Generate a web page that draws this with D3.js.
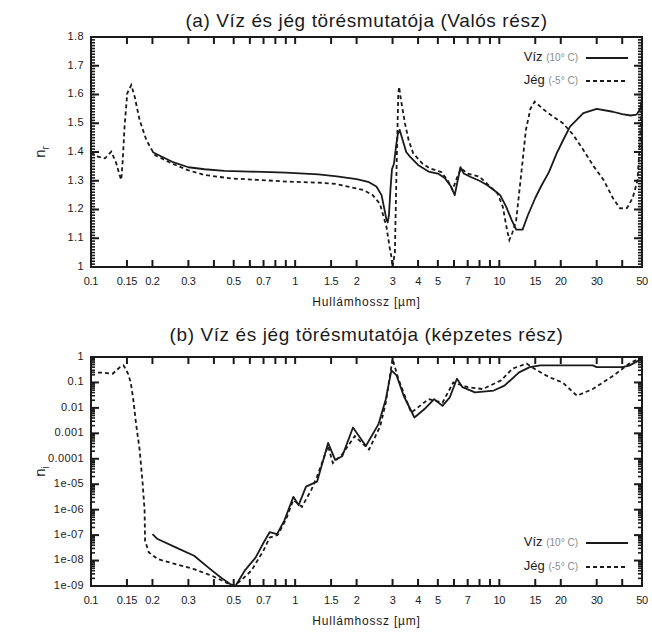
<!DOCTYPE html>
<html>
<head>
<meta charset="utf-8">
<script src="https://cdn.jsdelivr.net/npm/d3@7"></script>
<style>
  body { margin: 0; background: #fff; }
  svg { display: block; }
  text { font-family: "Liberation Sans", Arial, sans-serif; fill: #1a1a1a; }
</style>
</head>
<body>
<svg id="chart" width="652" height="635"></svg>
<script>
// Wavelength axis (µm), labelled ticks and all tick marks
const wavelengthLabels = [0.1, 0.15, 0.2, 0.3, 0.5, 0.7, 1, 1.5, 2, 3, 4, 5, 7, 10, 15, 20, 30, 50];
const wavelengthMarks = [0.1, 0.15, 0.2, 0.3, 0.4, 0.5, 0.6, 0.7, 0.8, 0.9, 1, 1.5, 2, 3, 4, 5, 6, 7, 8, 9, 10, 15, 20, 30, 40, 50];

// Real part tick labels
const realTicks = [1, 1.1, 1.2, 1.3, 1.4, 1.5, 1.6, 1.7, 1.8];
const realTickText = ["1", "1.1", "1.2", "1.3", "1.4", "1.5", "1.6", "1.7", "1.8"];

// Imaginary part tick labels
const imagTicks = [1, 1e-1, 1e-2, 1e-3, 1e-4, 1e-5, 1e-6, 1e-7, 1e-8, 1e-9];
const imagTickText = ["1", "0.1", "0.01", "0.001", "0.0001", "1e-05", "1e-06", "1e-07", "1e-08", "1e-09"];

// Series names
const seriesNames = ["Víz", "Jég"];
const seriesTemps = ["(10° C)", "(-5° C)"];

// Water, real part n_r  [wavelength µm, n]
const waterReal = [
  [0.2,1.40],[0.22,1.385],[0.25,1.366],[0.3,1.347],[0.36,1.34],[0.45,1.334],[0.6,1.332],
  [0.9,1.328],[1.3,1.322],[1.6,1.315],[2.0,1.306],[2.3,1.295],[2.5,1.28],[2.65,1.25],
  [2.72,1.21],[2.8,1.165],[2.84,1.155],[2.88,1.18],[2.93,1.27],[2.98,1.34],[3.05,1.36],
  [3.12,1.42],[3.18,1.46],[3.25,1.477],[3.35,1.445],[3.5,1.40],[3.65,1.384],[4.0,1.355],
  [4.5,1.332],[5.0,1.325],[5.4,1.31],[5.8,1.28],[6.05,1.25],[6.25,1.30],[6.45,1.347],
  [6.7,1.325],[7.2,1.314],[8.0,1.30],[8.7,1.285],[9.5,1.265],[10.1,1.25],[10.8,1.21],
  [11.5,1.163],[12.1,1.13],[13.0,1.13],[13.8,1.18],[15.0,1.24],[16.0,1.28],[17.5,1.33],
  [19.1,1.395],[20.5,1.44],[22.2,1.488],[25.8,1.535],[30,1.55],[36,1.54],[40,1.532],
  [44,1.527],[47,1.53],[49,1.55],[50,1.585]
];

// Ice, real part n_r
const iceReal = [
  [0.1,1.398],[0.108,1.384],[0.117,1.378],[0.1257,1.401],[0.133,1.361],[0.138,1.32],
  [0.1407,1.303],[0.143,1.37],[0.146,1.488],[0.1505,1.604],[0.1575,1.633],[0.1637,1.592],
  [0.173,1.511],[0.1866,1.442],[0.205,1.39],[0.247,1.361],[0.298,1.337],[0.36,1.32],
  [0.486,1.308],[0.656,1.303],[0.92,1.297],[1.34,1.293],[1.58,1.289],[2.16,1.268],
  [2.4,1.25],[2.6,1.22],[2.8,1.14],[2.9,1.07],[2.96,1.036],[3.0,1.0],[3.08,1.05],
  [3.14,1.35],[3.2,1.6],[3.23,1.627],[3.3,1.58],[3.45,1.50],[3.6,1.44],[3.79,1.395],
  [4.2,1.36],[4.57,1.343],[5.2,1.33],[5.6,1.30],[5.9,1.268],[6.2,1.31],[6.5,1.343],
  [7.0,1.325],[8.0,1.314],[9.0,1.28],[9.8,1.256],[10.4,1.21],[10.9,1.13],[11.2,1.094],
  [11.6,1.12],[12.1,1.163],[12.7,1.3],[13.5,1.477],[14.2,1.55],[14.9,1.575],[17.0,1.54],
  [20.5,1.50],[23,1.46],[25.8,1.407],[29,1.35],[32.4,1.303],[36,1.24],[39,1.204],
  [42.2,1.205],[45,1.24],[47.5,1.30],[49,1.45],[50,1.6]
];

// Water, imaginary part n_i
const waterImag = [
  [0.2,1.1e-7],[0.212,7e-8],[0.26,3.3e-8],[0.32,1.55e-8],[0.376,5.3e-9],[0.434,2.1e-9],
  [0.48,1.2e-9],[0.51,1e-9],[0.566,4e-9],[0.64,1.3e-8],[0.7,5e-8],[0.75,1.3e-7],
  [0.815,1.1e-7],[0.886,3.8e-7],[0.98,3.2e-6],[1.04,1.5e-6],[1.13,8e-6],[1.28,1.26e-5],
  [1.36,6.8e-5],[1.45,4.2e-4],[1.57,9e-5],[1.7,1.25e-4],[1.92,1.7e-3],[2.22,3.2e-4],
  [2.56,2.3e-3],[2.78,0.022],[2.96,0.3],[3.14,0.19],[3.4,0.03],[3.84,4.2e-3],[4.3,9e-3],
  [4.8,0.022],[5.27,0.012],[5.72,0.026],[6.2,0.14],[6.6,0.065],[7.6,0.041],[9.4,0.048],
  [10.6,0.075],[12.5,0.25],[14.1,0.40],[15.9,0.47],[28.7,0.47],[30,0.4],[40,0.4],
  [43.3,0.46],[50,0.85]
];

// Ice, imaginary part n_i
const iceImag = [
  [0.1,0.25],[0.115,0.24],[0.1277,0.22],[0.1386,0.4],[0.1443,0.47],[0.152,0.22],
  [0.1565,0.1],[0.161,0.022],[0.166,0.0026],[0.173,2.3e-4],[0.179,1.1e-5],[0.183,9.5e-7],
  [0.184,6e-8],[0.192,2.1e-8],[0.212,1.15e-8],[0.26,7.2e-9],[0.32,4.6e-9],[0.392,2.5e-9],
  [0.46,1.35e-9],[0.5,1e-9],[0.54,1.6e-9],[0.61,4e-9],[0.7,2.5e-8],[0.75,8e-8],[0.82,1e-7],
  [0.9,4e-7],[0.98,2.4e-6],[1.08,1.3e-6],[1.2,6e-6],[1.28,2e-5],[1.45,3.2e-4],[1.53,6.8e-5],
  [1.7,1.5e-4],[1.96,7.8e-4],[2.3,2.3e-4],[2.61,1.9e-3],[2.78,0.016],[3.0,0.85],[3.2,0.14],
  [3.7,6.5e-3],[4.5,0.022],[5.27,0.016],[5.95,0.1],[7.0,0.065],[8.3,0.055],[10.2,0.12],
  [11.6,0.35],[13.6,0.55],[14.8,0.35],[17.6,0.16],[20.4,0.1],[24,0.03],[28.7,0.055],
  [36.4,0.19],[43.3,0.55],[50,1.0]
];

const svg = d3.select("#chart");
const INK = "#1a1a1a";

function drawPanel(cfg) {
  const { top, bottom, left, right } = cfg.box;
  const g = svg.append("g");
  const x = d3.scaleLog().domain([0.1, 50]).range([left, right]);
  const y = cfg.yScale.range([bottom, top]);

  const clipId = "clip-" + cfg.id;
  svg.append("clipPath").attr("id", clipId)
    .append("rect").attr("x", left).attr("y", top - 1)
    .attr("width", right - left).attr("height", bottom - top + 2);

  // title
  g.append("text").attr("x", (left + right) / 2).attr("y", cfg.titleY)
    .attr("text-anchor", "middle").attr("dominant-baseline", "middle")
    .attr("font-size", 19).attr("letter-spacing", 0.6).text(cfg.title);

  // x tick marks on bottom and top
  const xt = g.append("g").attr("stroke", INK).attr("stroke-width", 2);
  wavelengthMarks.forEach(v => {
    xt.append("line").attr("x1", x(v)).attr("x2", x(v)).attr("y1", bottom).attr("y2", bottom - 7);
    xt.append("line").attr("x1", x(v)).attr("x2", x(v)).attr("y1", top).attr("y2", top + 7);
  });

  // x tick labels
  g.append("g").selectAll("text").data(wavelengthLabels).join("text")
    .attr("x", d => x(d)).attr("y", bottom + 15)
    .attr("text-anchor", "middle").attr("dominant-baseline", "middle")
    .attr("font-size", 11).attr("letter-spacing", -0.3)
    .text(d => String(d));

  // x axis title
  g.append("text").attr("x", (left + right) / 2).attr("y", bottom + 36)
    .attr("text-anchor", "middle").attr("dominant-baseline", "middle")
    .attr("font-size", 12).attr("letter-spacing", 0.8).text("Hullámhossz [µm]");

  // y tick marks, left and right
  const yt = g.append("g").attr("stroke", INK);
  cfg.yMinor.forEach(v => {
    yt.append("line").attr("x1", left).attr("x2", left + 4).attr("y1", y(v)).attr("y2", y(v)).attr("stroke-width", 1.6);
    yt.append("line").attr("x1", right).attr("x2", right - 4).attr("y1", y(v)).attr("y2", y(v)).attr("stroke-width", 1.6);
  });
  cfg.yMajor.forEach(v => {
    yt.append("line").attr("x1", left).attr("x2", left + 8).attr("y1", y(v)).attr("y2", y(v)).attr("stroke-width", 2);
    yt.append("line").attr("x1", right).attr("x2", right - 8).attr("y1", y(v)).attr("y2", y(v)).attr("stroke-width", 2);
  });

  // y tick labels
  g.append("g").selectAll("text").data(cfg.yMajor).join("text")
    .attr("x", left - 7).attr("y", d => y(d))
    .attr("text-anchor", "end").attr("dominant-baseline", "middle")
    .attr("font-size", 11).attr("letter-spacing", 0.4)
    .text((d, i) => cfg.yText[i]);

  // y axis title: n with subscript
  const yl = g.append("text")
    .attr("transform", `translate(${left - 46},${(top + bottom) / 2}) rotate(-90)`)
    .attr("text-anchor", "middle").attr("font-size", 15);
  yl.append("tspan").text("n");
  yl.append("tspan").attr("font-size", 10).attr("dy", 4).text(cfg.sub);

  // frame
  g.append("rect").attr("x", left).attr("y", top)
    .attr("width", right - left).attr("height", bottom - top)
    .attr("fill", "none").attr("stroke", INK).attr("stroke-width", 2);

  // data lines
  const line = d3.line().x(d => x(d[0])).y(d => y(Math.max(d[1], cfg.floor)));
  const lines = g.append("g").attr("clip-path", `url(#${clipId})`).attr("fill", "none");
  lines.append("path").datum(cfg.water).attr("d", line)
    .attr("stroke", INK).attr("stroke-width", 1.8).attr("stroke-linejoin", "round");
  lines.append("path").datum(cfg.ice).attr("d", line)
    .attr("stroke", INK).attr("stroke-width", 1.8).attr("stroke-dasharray", "4,3");

  // legend
  const legend = g.append("g");
  cfg.legendY.forEach((ly, i) => {
    const t = legend.append("text").attr("x", 578).attr("y", ly)
      .attr("text-anchor", "end").attr("dominant-baseline", "middle");
    t.append("tspan").attr("font-size", 13).text(seriesNames[i] + " ");
    t.append("tspan").attr("font-size", 10).attr("fill", "#8a8a8a").text(seriesTemps[i]);
    legend.append("line").attr("x1", 586).attr("x2", 628).attr("y1", ly).attr("y2", ly)
      .attr("stroke", INK).attr("stroke-width", 1.8)
      .attr("stroke-dasharray", i === 1 ? "4,3" : null);
  });
}

const realMinor = d3.range(100, 181).map(v => v / 100);
drawPanel({
  id: "real",
  box: { top: 37, bottom: 267, left: 91, right: 642 },
  title: "(a) Víz és jég törésmutatója (Valós rész)",
  titleY: 22,
  yScale: d3.scaleLinear().domain([1, 1.8]),
  yMajor: realTicks, yText: realTickText, yMinor: realMinor,
  sub: "r", floor: 0,
  water: waterReal, ice: iceReal,
  legendY: [58, 81]
});

const imagMinor = [];
imagTicks.slice(1).forEach(dec => { for (let k = 2; k <= 9; k++) imagMinor.push(dec * k); });
drawPanel({
  id: "imag",
  box: { top: 357, bottom: 586, left: 91, right: 642 },
  title: "(b) Víz és jég törésmutatója (képzetes rész)",
  titleY: 336,
  yScale: d3.scaleLog().domain([1e-9, 1]),
  yMajor: imagTicks, yText: imagTickText, yMinor: imagMinor,
  sub: "i", floor: 1e-9,
  water: waterImag, ice: iceImag,
  legendY: [543, 567]
});
</script>
</body>
</html>
